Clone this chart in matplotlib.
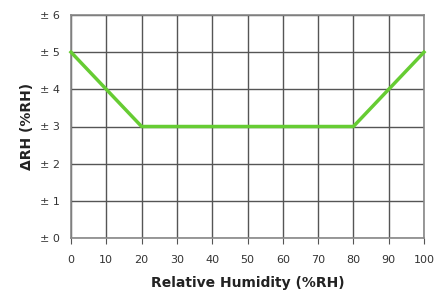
import matplotlib
matplotlib.use("Agg")
import matplotlib.pyplot as plt

rh = [0, 10, 20, 80, 90, 100]
delta = [5, 4, 3, 3, 4, 5]
xticks = [0, 10, 20, 30, 40, 50, 60, 70, 80, 90, 100]
yticks = [0, 1, 2, 3, 4, 5, 6]
ylabels = ["± 0", "± 1", "± 2", "± 3", "± 4", "± 5", "± 6"]

fig = plt.figure(figsize=(4.35, 2.96), dpi=100)
ax = fig.add_axes([71/435, 1-238/296, (424-71)/435, (238-15)/296])
ax.plot(rh, delta, color="#66cc33", lw=2.5, zorder=3, clip_on=False)
ax.set_xlim(0, 100)
ax.set_ylim(0, 6)
ax.set_xticks(xticks)
ax.set_yticks(yticks)
ax.set_yticklabels(ylabels)
ax.grid(True, color="#555555", lw=1.0)
for s in ax.spines.values():
    s.set_color("#888888")
    s.set_linewidth(1.2)
ax.tick_params(axis="x", length=4, color="#555555", labelsize=8, labelcolor="#333333", pad=8)
ax.tick_params(axis="y", length=0, pad=8, labelsize=8, labelcolor="#333333")
ax.set_xlabel("Relative Humidity (%RH)", fontsize=10, fontweight="bold", color="#222222", labelpad=8)
ax.set_ylabel("ΔRH (%RH)", fontsize=10, fontweight="bold", color="#222222", labelpad=4)
fig.savefig("out.png", dpi=100)
